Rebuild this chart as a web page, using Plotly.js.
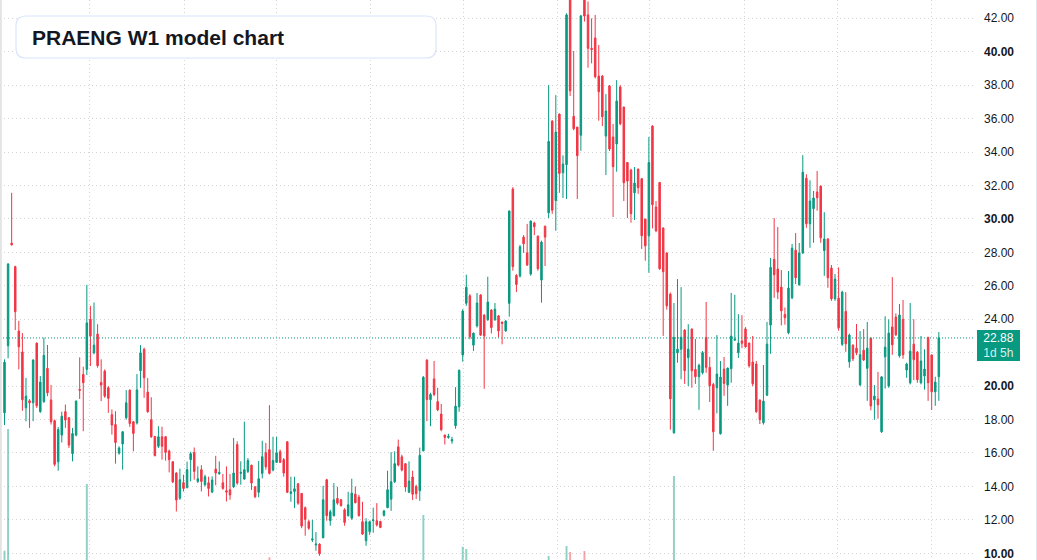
<!DOCTYPE html>
<html>
<head>
<meta charset="utf-8">
<script src="https://cdn.plot.ly/plotly-3.0.1.min.js"></script>
<style>
html,body{margin:0;padding:0;background:#ffffff;}
#chart{width:1037px;height:560px;}
</style>
</head>
<body>
<div id="chart"></div>
<script>
const titleText = 'PRAENG W1 model chart';
const countdownText = '1d 5h';
const startDate = '2020-01-16';

const openP = [
18.40,22.41,28.55,27.14,23.29,22.04,18.70,19.12,19.00,22.57,
18.47,19.07,21.06,19.17,17.93,15.47,17.07,18.47,18.10,15.96,
17.07,19.80,20.70,21.00,24.00,21.99,23.11,20.22,20.90,19.90,
18.29,17.70,15.99,16.54,18.10,19.76,17.87,17.80,20.92,22.20,
19.64,17.99,16.99,16.40,16.97,16.97,16.12,15.48,14.80,13.30,
14.23,13.92,15.60,16.03,14.30,15.00,14.10,14.22,13.66,15.04,
14.76,14.22,13.74,13.80,13.98,16.50,14.78,14.44,14.90,15.27,
13.98,13.65,14.78,16.02,16.20,14.98,15.44,16.08,15.60,16.67,
13.58,13.70,14.16,13.58,12.73,11.89,10.80,10.50,10.55,10.93,
14.40,11.95,12.25,13.28,13.20,12.60,12.25,12.10,13.54,13.36,
11.89,10.75,11.30,11.95,11.95,11.90,12.27,12.73,13.24,14.28,
16.37,15.77,15.36,13.65,14.56,14.00,13.74,16.13,21.56,19.19,
20.43,19.07,18.33,17.07,16.93,16.72,17.63,18.76,21.86,24.95,
25.40,22.45,23.60,25.45,24.25,23.97,24.55,23.97,24.20,23.83,
23.30,24.95,31.78,26.62,26.58,28.91,27.97,26.70,29.75,28.97,
26.34,29.56,30.36,35.85,31.09,36.27,32.76,33.24,43.50,36.14,
35.49,35.00,43.30,42.20,40.20,40.82,38.54,38.54,34.95,37.95,
34.90,34.48,37.89,36.69,33.37,32.92,31.56,32.98,32.40,29.99,
28.99,35.55,30.71,32.18,29.45,27.96,25.50,17.21,21.99,22.20,
23.35,21.70,23.41,21.00,20.56,20.80,22.91,21.12,20.10,19.90,
17.15,21.02,20.06,21.04,22.75,22.00,22.70,23.41,22.57,21.44,
21.32,19.17,17.81,19.46,23.65,27.58,27.00,25.92,24.29,23.19,
25.28,28.13,26.06,27.97,32.43,29.71,30.61,31.61,31.96,28.10,
28.80,27.06,25.22,25.26,22.50,24.47,21.45,22.45,22.27,20.08,
22.15,21.06,22.87,19.18,19.23,17.27,21.75,20.00,23.54,24.13,
21.81,24.00,20.96,20.20,22.51,22.03,20.20,20.60,22.91,21.86,
19.66,20.56
];
const highP = [
21.60,27.35,31.56,27.20,23.90,23.17,20.49,19.22,21.60,22.60,
20.60,22.90,22.46,20.06,18.00,17.55,18.47,18.90,18.15,17.50,
19.15,21.72,21.16,26.06,24.80,25.00,23.70,21.60,21.00,20.00,
18.60,18.50,16.40,17.30,19.76,19.80,17.90,20.72,22.45,22.30,
20.48,19.33,17.00,17.60,17.57,17.00,16.20,15.50,14.85,15.06,
14.70,15.48,16.08,16.33,15.20,15.27,14.70,14.58,14.60,15.83,
15.50,14.75,15.20,14.74,16.90,16.70,15.50,17.87,15.70,15.30,
14.00,15.52,16.73,16.60,18.86,16.97,16.97,16.20,15.70,16.70,
14.58,14.58,14.20,13.60,12.80,12.00,12.00,11.27,10.60,14.04,
14.45,12.60,14.20,13.98,13.25,12.70,13.68,14.46,14.00,13.50,
13.08,12.10,11.95,12.73,13.00,11.95,12.60,14.94,16.05,16.10,
16.80,15.90,15.40,15.50,14.94,14.10,16.32,20.60,21.60,19.60,
21.50,19.90,18.93,17.10,17.15,16.97,19.94,21.00,24.60,26.66,
25.50,23.20,25.57,25.50,24.30,26.54,24.60,24.97,24.25,23.85,
23.95,30.50,31.90,26.70,28.44,29.03,29.70,29.90,29.83,29.00,
28.70,29.60,38.00,35.90,37.40,36.30,33.80,42.30,44.00,40.04,
35.50,42.20,43.80,43.00,41.99,42.20,40.40,38.60,37.46,38.00,
35.67,38.30,38.00,36.70,33.40,33.00,33.10,33.00,32.45,30.00,
34.90,35.60,31.07,32.20,29.50,28.00,25.60,24.97,26.40,25.92,
23.40,23.70,23.45,22.82,21.34,22.10,25.03,21.75,20.20,23.05,
21.50,21.74,21.10,25.57,25.46,24.30,24.24,23.53,22.60,23.00,
21.50,19.20,21.26,23.84,27.66,30.05,29.51,26.94,24.70,26.88,
28.50,29.15,28.56,33.81,32.67,32.31,31.67,32.86,32.00,30.40,
28.85,27.24,26.70,27.10,25.70,25.62,23.14,22.50,23.71,23.29,
23.41,23.83,22.90,20.06,20.85,20.60,24.18,23.99,26.52,24.35,
24.91,25.15,21.40,24.97,24.00,22.10,23.00,22.20,22.95,21.90,
20.56,23.23
];
const lowP = [
17.67,21.66,28.40,23.35,21.00,18.52,17.89,17.50,17.90,18.70,
18.40,19.00,19.40,17.70,15.20,14.94,16.63,17.50,16.30,15.50,
17.00,19.23,17.30,20.66,21.20,21.90,21.10,19.10,19.30,18.40,
17.10,15.36,15.90,15.00,18.00,17.56,16.10,17.70,19.90,19.30,
18.40,16.90,15.80,16.30,15.60,15.54,14.84,14.20,12.50,13.20,
13.70,13.90,14.30,14.40,14.20,13.70,14.00,13.40,13.60,14.07,
14.70,13.80,13.10,13.20,13.90,14.10,14.10,14.40,14.80,13.79,
13.30,13.35,14.48,15.00,14.72,14.90,15.40,15.40,14.58,13.60,
13.08,12.70,12.90,11.50,11.05,11.40,10.67,10.15,9.85,10.90,
11.95,11.65,12.20,12.90,12.80,11.65,12.20,12.00,13.00,12.20,
11.10,10.45,11.10,11.23,11.60,11.50,12.20,12.70,12.54,14.20,
15.20,14.90,13.68,13.60,13.19,13.24,13.14,16.10,17.90,17.60,
19.40,18.50,17.30,16.51,16.85,16.55,17.45,18.47,21.46,24.80,
22.80,22.10,23.50,23.00,19.84,23.90,23.15,23.90,22.92,22.50,
23.25,24.15,26.90,25.62,26.50,27.97,27.18,26.60,29.03,26.90,
24.99,27.18,30.05,30.30,29.29,31.56,31.25,31.19,37.35,35.30,
31.19,34.07,41.80,39.04,39.30,38.40,35.87,35.55,32.62,34.06,
30.11,32.82,35.60,31.07,30.05,29.77,29.93,31.50,28.20,27.50,
26.78,29.43,29.20,26.95,23.00,24.57,17.39,17.15,21.40,20.41,
20.13,20.00,19.90,20.13,18.58,20.70,20.80,19.05,16.13,18.37,
17.10,19.42,18.82,20.20,22.70,21.68,22.27,22.30,21.10,20.00,
18.40,17.73,17.70,19.40,21.93,25.28,25.20,23.63,23.67,23.10,
25.20,26.10,26.00,27.90,29.47,28.27,28.57,30.49,28.57,26.59,
25.88,25.10,25.10,23.31,22.40,22.05,21.10,21.50,21.85,20.00,
21.50,19.12,18.55,17.99,18.05,17.20,19.85,19.90,21.87,23.00,
21.70,21.63,20.50,20.10,20.36,20.20,20.10,19.79,19.12,18.57,
18.82,19.12
];
const closeP = [
21.42,27.30,28.45,24.45,22.35,19.18,19.40,19.00,21.56,18.82,
20.24,21.84,19.60,17.87,15.32,17.40,18.20,17.97,16.47,17.16,
19.10,19.75,20.20,23.78,23.00,22.45,21.22,20.06,19.40,19.27,
17.67,16.63,16.30,17.27,19.00,17.76,17.17,19.77,21.99,20.50,
18.47,16.97,15.84,16.97,16.40,16.04,15.60,14.27,13.19,14.40,
13.88,15.00,15.96,14.90,14.46,14.30,14.58,13.88,14.38,14.80,
14.84,13.88,13.66,13.49,14.80,14.20,14.84,15.00,15.55,14.20,
13.38,14.46,15.78,15.17,14.78,15.55,16.02,15.44,14.80,13.65,
13.68,13.86,13.00,11.63,12.03,11.50,10.86,10.55,9.98,13.20,
12.25,12.48,13.20,13.00,12.85,11.85,12.90,13.60,13.02,12.25,
11.15,11.89,11.89,12.00,11.70,11.55,12.53,13.80,14.28,15.36,
15.28,14.98,13.96,14.32,13.53,13.56,15.86,20.53,19.19,19.50,
19.50,18.58,17.39,16.93,17.00,16.80,18.80,20.94,24.49,25.91,
22.95,23.17,24.97,23.05,23.00,25.03,23.50,24.60,23.30,23.75,
23.89,30.47,27.14,26.08,28.33,28.51,27.24,29.87,29.53,27.02,
28.61,28.91,34.63,30.52,35.19,32.72,33.28,42.20,37.66,35.39,
33.78,42.14,42.13,40.20,40.13,38.50,37.60,36.11,36.45,34.18,
33.12,37.05,35.69,32.16,32.26,30.31,32.14,31.86,28.99,28.39,
33.37,30.85,29.29,27.02,26.84,24.80,19.24,22.91,22.21,22.92,
20.92,22.21,20.92,20.56,21.24,22.00,21.12,20.02,17.27,20.72,
20.54,20.16,21.08,22.99,22.80,22.57,22.56,22.35,21.22,20.14,
18.47,17.99,19.10,22.51,27.10,26.66,25.62,24.50,24.09,25.86,
28.25,26.48,27.96,32.79,29.71,31.07,31.25,31.26,28.87,28.80,
26.48,25.22,26.40,23.49,25.62,22.53,23.05,21.63,21.99,21.88,
21.56,22.27,18.81,19.40,18.88,20.55,22.33,23.17,22.47,23.07,
24.25,21.87,21.32,22.09,21.58,20.38,21.50,21.02,20.20,19.66,
20.24,22.88
];
const volume = [
93000,1310000,0,0,0,0,0,0,0,0,0,0,0,0,0,0,0,0,0,0,
0,0,0,760000,0,0,0,0,0,0,0,0,0,0,0,0,0,0,0,0,
0,0,0,0,0,0,0,0,0,0,0,0,0,0,0,0,0,0,0,0,
0,0,0,0,0,0,0,0,0,0,0,0,0,0,27000,0,0,0,0,0,
0,0,0,0,0,0,0,0,0,0,0,0,0,0,0,0,0,0,0,0,
0,0,0,0,0,0,0,0,0,0,0,0,0,0,0,0,0,450000,0,0,
0,0,0,0,0,0,0,0,133000,110000,0,0,0,0,0,0,0,0,0,0,
0,0,0,0,0,0,0,0,0,0,0,0,40000,0,0,0,0,140000,80000,0,
0,0,90000,0,0,0,0,0,0,0,0,0,0,0,0,0,0,0,0,0,
0,0,0,0,0,0,0,840000,0,0,0,0,0,0,0,0,0,0,0,0,
0,0,0,0,0,0,0,0,0,0,0,0,0,0,0,0,0,0,0,0,
0,0,0,0,0,0,0,0,0,0,0,0,0,0,0,0,0,0,0,0,
0,0,0,0,0,0,0,0,0,0,0,0,0,0,0,0,0,0,0,0,
0,0
];
const priceTicks = [10,12,14,16,18,20,22,24,26,28,30,32,34,36,38,40,42];
const priceTickText = ['<b>10.00</b>','12.00','14.00','16.00','18.00','<b>20.00</b>','22.00','24.00','26.00','28.00','<b>30.00</b>','32.00','34.00','36.00','38.00','<b>40.00</b>','42.00'];

const GREEN = '#089981', RED = '#f23645';
const WEEK = 7 * 24 * 3600 * 1000;
const t0 = new Date(startDate + 'T00:00:00Z').getTime();
const dates = openP.map((_, i) => new Date(t0 + i * WEEK).toISOString().slice(0, 10));

const volColors = openP.map((o, i) => closeP[i] >= o ? 'rgba(8,153,129,0.45)' : 'rgba(242,54,69,0.45)');

const plotW = 975, plotH = 560;
const px = v => v / plotW;
const py = v => 1 - v / plotH;

function roundRect(x0, y0, x1, y1, r) {
  const rx = r / plotW, ry = r / plotH;
  const X0 = px(x0), X1 = px(x1), Y0 = py(y0), Y1 = py(y1);
  return `M ${X0 + rx},${Y0} L ${X1 - rx},${Y0} Q ${X1},${Y0} ${X1},${Y0 - ry} ` +
         `L ${X1},${Y1 + ry} Q ${X1},${Y1} ${X1 - rx},${Y1} L ${X0 + rx},${Y1} ` +
         `Q ${X0},${Y1} ${X0},${Y1 + ry} L ${X0},${Y0 - ry} Q ${X0},${Y0} ${X0 + rx},${Y0} Z`;
}

const lastClose = closeP[closeP.length - 1];

const traces = [
  {
    type: 'bar', x: dates, y: volume, yaxis: 'y2',
    marker: { color: volColors, line: { width: 0 } },
    width: 0.55 * WEEK, hoverinfo: 'skip'
  },
  {
    type: 'candlestick', x: dates,
    open: openP, high: highP, low: lowP, close: closeP,
    increasing: { line: { color: GREEN, width: 1 }, fillcolor: GREEN },
    decreasing: { line: { color: RED, width: 1 }, fillcolor: RED },
    whiskerwidth: 0, hoverinfo: 'skip'
  }
];

const layout = {
  width: 1037, height: 560,
  margin: { l: 0, r: 62, t: 0, b: 0, pad: 0 },
  paper_bgcolor: '#ffffff', plot_bgcolor: '#ffffff',
  showlegend: false, hovermode: false, boxgap: 0.4,
  font: { family: 'Liberation Sans, Arial, sans-serif', color: '#131722', size: 12 },
  xaxis: {
    type: 'date',
    range: [new Date(t0 - 1.257 * WEEK).toISOString(), new Date(t0 + 271.1 * WEEK).toISOString()],
    tick0: '2020-01-01', dtick: 'M6',
    showticklabels: false, ticks: '',
    showgrid: true, gridcolor: '#d4d4d4', griddash: '1px,3px', gridwidth: 1,
    zeroline: false, showline: false,
    rangeslider: { visible: false }, fixedrange: true
  },
  yaxis: {
    side: 'right', range: [9.60, 43.09],
    tickmode: 'array', tickvals: priceTicks, ticktext: priceTickText,
    ticks: '', ticklabelstandoff: 8, ticklabeloverflow: 'allow',
    tickfont: { size: 12, color: '#131722', family: 'Liberation Sans, Arial, sans-serif' },
    showgrid: true, gridcolor: '#d4d4d4', griddash: '1px,3px', gridwidth: 1,
    zeroline: false, showline: false, fixedrange: true
  },
  yaxis2: {
    overlaying: 'y', range: [0, 5600000], visible: false, fixedrange: true
  },
  shapes: [
    { type: 'line', xref: 'paper', yref: 'y', x0: 0, x1: 1, y0: lastClose, y1: lastClose,
      line: { color: GREEN, width: 1, dash: '1px,2px' } },
    { type: 'path', xref: 'paper', yref: 'paper', path: roundRect(16, 16, 436, 58, 10),
      fillcolor: '#ffffff', line: { color: '#d9e6fb', width: 1.2 } },
    { type: 'line', xref: 'paper', yref: 'paper', x0: px(0.8), x1: px(0.8), y0: 0, y1: 1,
      line: { color: '#e3e3e3', width: 2 } },
    { type: 'line', xref: 'paper', yref: 'paper', x0: px(1036.5), x1: px(1036.5), y0: 0, y1: 1,
      line: { color: '#e0e3eb', width: 1 } }
  ],
  annotations: [
    { xref: 'paper', yref: 'paper', x: px(30), y: py(37.5), xanchor: 'left', yanchor: 'middle',
      text: '<b>' + titleText + '</b>', showarrow: false,
      font: { size: 21, color: '#131722', family: 'Liberation Sans, Arial, sans-serif' } },
    { xref: 'paper', yref: 'y', x: px(977), y: lastClose, xanchor: 'left', yanchor: 'top', yshift: 8,
      text: lastClose.toFixed(2) + '<br><span style="color:rgba(255,255,255,0.85)">' + countdownText + '</span>',
      showarrow: false, bgcolor: GREEN, borderpad: 1, borderwidth: 0,
      width: 41, height: 29, align: 'center',
      font: { size: 12, color: '#ffffff', family: 'Liberation Sans, Arial, sans-serif' } }
  ]
};

Plotly.newPlot('chart', traces, layout, { staticPlot: true, displayModeBar: false });
</script>
</body>
</html>
